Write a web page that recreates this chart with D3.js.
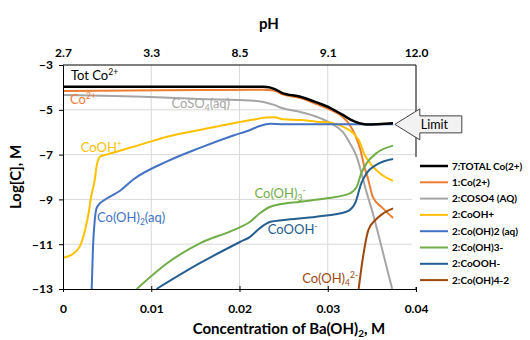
<!DOCTYPE html>
<html>
<head>
<meta charset="utf-8">
<script src="https://cdn.jsdelivr.net/npm/d3@7"></script>
<style>
  body { margin: 0; background: #fff; }
  svg { display: block; font-family: Lato, "Open Sans", sans-serif; }
</style>
</head>
<body>
<div id="chart"></div>
<script>
// ---- data ----
// each series: [Ba(OH)2 concentration (M), log[C]]
const totalCo = [[0, -3.97], [0.0227, -3.97], [0.0234, -4.0], [0.0240, -4.08], [0.0248, -4.24],
  [0.0269, -4.42], [0.0288, -4.68], [0.0303, -4.92], [0.0317, -5.23], [0.0327, -5.46],
  [0.0337, -5.61], [0.0344, -5.66], [0.0374, -5.6]];
const co2 = [[0, -4.16], [0.015, -4.12], [0.0227, -4.1], [0.0240, -4.15], [0.0248, -4.3],
  [0.0269, -4.48], [0.0288, -4.76], [0.0303, -5.0], [0.0317, -5.32], [0.0325, -5.68],
  [0.0331, -6.12], [0.0337, -6.79], [0.0341, -7.46], [0.0346, -8.13], [0.0351, -8.89],
  [0.0362, -9.38], [0.0374, -9.83]];
const coso4 = [[0, -4.34], [0.0099, -4.43], [0.0155, -4.52], [0.0212, -4.58], [0.0227, -4.65],
  [0.0240, -4.79], [0.0248, -4.92], [0.0269, -5.1], [0.0288, -5.32], [0.0303, -5.59],
  [0.0317, -5.99], [0.0325, -6.48], [0.0333, -7.11], [0.0338, -7.8], [0.0342, -8.4],
  [0.0351, -9.61], [0.0361, -11.13], [0.0373, -13]];
const cooh = [[0, -11.6], [0.00095, -11.48], [0.0019, -11.11], [0.0025, -10.37], [0.0029, -9.62],
  [0.0032, -8.85], [0.0036, -8.13], [0.0038, -7.54], [0.0042, -7.09], [0.005, -6.99],
  [0.008, -6.65], [0.0118, -6.2], [0.0155, -5.9], [0.0193, -5.6], [0.022, -5.41],
  [0.023, -5.34], [0.024, -5.33], [0.0249, -5.42], [0.0269, -5.46], [0.0287, -5.53],
  [0.0306, -5.6], [0.0321, -5.83], [0.0329, -6.05], [0.0335, -6.35], [0.0342, -7.02],
  [0.0348, -7.39], [0.0359, -7.83], [0.0374, -8.17]];
const cooh2 = [[0.00325, -13], [0.0034, -11.11], [0.0036, -9.92], [0.0038, -9.4], [0.0042, -9.17],
  [0.005, -8.95], [0.0065, -8.6], [0.008, -8.1], [0.0118, -7.3], [0.0155, -6.7],
  [0.0193, -6.15], [0.0212, -5.9], [0.0223, -5.72], [0.0235, -5.62], [0.025, -5.65],
  [0.0374, -5.65]];
const cooh3 = [[0.00835, -13], [0.0118, -11.85], [0.0155, -10.96], [0.0193, -10.37], [0.0212, -10.0],
  [0.0223, -9.62], [0.0235, -9.33], [0.0242, -9.25], [0.0269, -9.1], [0.0299, -8.95],
  [0.0325, -8.73], [0.0333, -8.43], [0.0338, -7.83], [0.0344, -7.39], [0.0355, -6.94],
  [0.0374, -6.6]];
const coooh = [[0.0106, -13], [0.0155, -11.85], [0.0201, -10.89], [0.0212, -10.67], [0.0223, -10.29],
  [0.0235, -10.0], [0.025, -9.92], [0.0287, -9.77], [0.0321, -9.55], [0.0331, -9.17],
  [0.0338, -8.28], [0.0344, -7.83], [0.0355, -7.46], [0.0374, -7.2]];
const cooh4 = [[0.0335, -13], [0.034, -11.56], [0.0346, -10.37], [0.0354, -9.92], [0.0363, -9.62],
  [0.0374, -9.4]];

const xTicks = [0, 0.01, 0.02, 0.03, 0.04];
const xTickLabels = ['0', '0.01', '0.02', '0.03', '0.04'];
const phLabels = ['2.7', '3.3', '8.5', '9.1', '12.0'];
const yTicks = [-3, -5, -7, -9, -11, -13];
const limitLevel = -5.65;

const legendNames = ['7:TOTAL Co(2+)', '1:Co(2+)', '2:COSO4 (AQ)', '2:CoOH+',
  '2:Co(OH)2 (aq)', '2:Co(OH)3-', '2:CoOOH-', '2:Co(OH)4-2'];
const colors = ['#000000', '#ed7d31', '#a5a5a5', '#ffc000', '#4472c4', '#70ad47', '#255e91', '#9e480e'];
const allSeries = [totalCo, co2, coso4, cooh, cooh2, cooh3, coooh, cooh4];

// in-plot labels: [conc, logC, color, parts]
const notes = [
  [0.0009, -3.67, '#000000', [['Tot Co', ''], ['2+', 'sup']]],
  [0.0008, -4.74, '#ed7d31', [['Co', ''], ['2+', 'sup']]],
  [0.0123, -4.92, '#a5a5a5', [['CoSO', ''], ['4', 'sub'], ['(aq)', '']]],
  [0.0020, -6.88, '#ffc000', [['CoOH', ''], ['+', 'sup']]],
  [0.00385, -10.0, '#4472c4', [['Co(OH)', ''], ['2', 'sub'], ['(aq)', '']]],
  [0.0217, -8.94, '#70ad47', [['Co(OH)', ''], ['3', 'sub'], ['-', 'sup']]],
  [0.0232, -10.54, '#255e91', [['CoOOH', ''], ['-', 'sup']]],
  [0.0271, -12.73, '#9e480e', [['Co(OH)', ''], ['4', 'sub'], ['2-', 'sup']]]
];

// ---- layout ----
const width = 530, height = 340;
const margin = { top: 65, left: 63, right: 114, bottom: 51 };
const plotW = width - margin.left - margin.right;
const plotH = height - margin.top - margin.bottom;

const svg = d3.select('#chart').append('svg')
  .attr('width', width)
  .attr('height', height);

const x = d3.scaleLinear().domain([0, 0.04]).range([margin.left, margin.left + plotW]);
const y = d3.scaleLinear().domain([-13, -3]).range([margin.top + plotH, margin.top]);

// gridlines
svg.append('g')
  .selectAll('line.vg')
  .data(xTicks.slice(1, -1))
  .join('line')
  .attr('x1', d => x(d)).attr('x2', d => x(d))
  .attr('y1', y(-3)).attr('y2', y(-13))
  .attr('stroke', '#d9d9d9');
svg.append('g')
  .selectAll('line.hg')
  .data(yTicks.slice(1, -1))
  .join('line')
  .attr('x1', x(0)).attr('x2', x(0.04))
  .attr('y1', d => y(d)).attr('y2', d => y(d))
  .attr('stroke', '#d9d9d9');

// frame (top + right)
svg.append('path')
  .attr('d', `M${x(0)},${y(-3)}H${x(0.04)}V${y(-13)}`)
  .attr('fill', 'none')
  .attr('stroke', '#000')
  .attr('stroke-width', 1);

// series lines
const line = d3.line()
  .x(d => x(d[0]))
  .y(d => y(d[1]))
  .curve(d3.curveMonotoneX);

const drawOrder = [2, 1, 3, 4, 5, 6, 7, 0];
svg.append('g')
  .selectAll('path')
  .data(drawOrder)
  .join('path')
  .attr('d', i => line(allSeries[i]))
  .attr('fill', 'none')
  .attr('stroke', i => colors[i])
  .attr('stroke-width', i => i === 0 ? 2.5 : 2)
  .attr('stroke-linejoin', 'round');

// axes
const axisFont = sel => sel.selectAll('text')
  .attr('font-size', 12)
  .attr('font-weight', 'bold')
  .attr('fill', '#000')
  .attr('font-family', 'Lato, sans-serif');

const yAxis = svg.append('g')
  .attr('transform', `translate(${x(0)},0)`)
  .call(d3.axisLeft(y).tickValues(yTicks).tickSize(4).tickPadding(6).tickFormat(d3.format('d')));
yAxis.select('.domain').attr('stroke', '#000');
yAxis.call(axisFont);

const xAxis = svg.append('g')
  .attr('transform', `translate(0,${y(-13)})`)
  .call(d3.axisBottom(x).tickValues(xTicks).tickSize(3).tickPadding(12)
    .tickFormat((d, i) => xTickLabels[i]));
xAxis.selectAll('.tick line').attr('y1', -3);
xAxis.select('.domain').attr('stroke', '#000');
xAxis.call(axisFont);

const topAxis = svg.append('g')
  .attr('transform', `translate(0,${y(-3)})`)
  .call(d3.axisTop(x).tickValues(xTicks).tickSize(0).tickPadding(8)
    .tickFormat((d, i) => phLabels[i]));
topAxis.select('.domain').remove();
topAxis.call(axisFont);

// titles
svg.append('text')
  .attr('x', 269).attr('y', 29)
  .attr('text-anchor', 'middle')
  .attr('font-size', 15).attr('font-weight', 'bold')
  .text('pH');
svg.append('text')
  .attr('x', 289).attr('y', 334)
  .attr('text-anchor', 'middle')
  .attr('font-size', 15).attr('font-weight', 'bold')
  .call(t => {
    t.append('tspan').text('Concentration of Ba(OH)');
    t.append('tspan').attr('font-size', 10).attr('dy', 3).text('2');
    t.append('tspan').attr('dy', -3).text(', M');
  });
svg.append('text')
  .attr('transform', `translate(21,${y(-8)}) rotate(-90)`)
  .attr('text-anchor', 'middle')
  .attr('font-size', 15).attr('font-weight', 'bold')
  .text('Log[C], M');

// in-plot labels
notes.forEach(([cx, cy, col, parts]) => {
  const t = svg.append('text')
    .attr('x', x(cx)).attr('y', y(cy))
    .attr('fill', col)
    .attr('font-size', 13);
  let shift = 0;
  parts.forEach(([s, kind]) => {
    const target = kind === 'sup' ? -5 : kind === 'sub' ? 3 : 0;
    t.append('tspan')
      .attr('dy', target - shift)
      .attr('font-size', kind ? 8.5 : 13)
      .text(s);
    shift = target;
  });
});

// legend (white box hides the right frame below the limit arrow)
const legend = svg.append('g');
legend.append('rect')
  .attr('x', 412).attr('y', 157)
  .attr('width', width - 412).attr('height', 130)
  .attr('fill', '#fff');
const item = legend.selectAll('g.item')
  .data(legendNames)
  .join('g')
  .attr('transform', (d, i) => `translate(420,${166 + i * 16.3})`);
item.append('line')
  .attr('x1', 0).attr('x2', 28)
  .attr('stroke', (d, i) => colors[i])
  .attr('stroke-width', (d, i) => i === 0 ? 2.5 : 2);
item.append('text')
  .attr('x', 32).attr('y', 3.5)
  .attr('font-size', 10).attr('font-weight', 'bold')
  .text(d => d);

// limit arrow
const ay = y(limitLevel);
const ax = x(0.0376);
svg.append('path')
  .attr('d', `M${ax},${ay}L${ax + 25},${ay - 15.5}V${ay - 8.5}H${ax + 67}V${ay + 8.5}H${ax + 25}V${ay + 15.5}Z`)
  .attr('fill', '#f2f2f2')
  .attr('stroke', '#404040')
  .attr('stroke-width', 1);
svg.append('text')
  .attr('x', ax + 26).attr('y', ay + 4.5)
  .attr('font-size', 12.5)
  .text('Limit');
</script>
</body>
</html>
